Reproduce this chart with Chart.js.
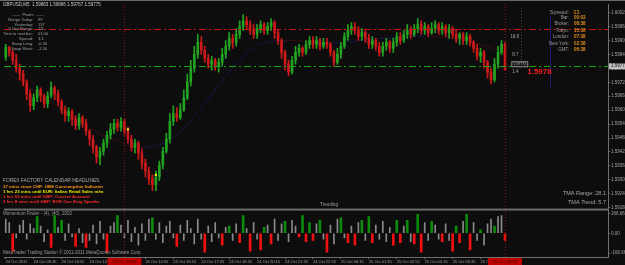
<!DOCTYPE html>
<html>
<head>
<meta charset="utf-8">
<script src="https://cdn.jsdelivr.net/npm/chart.js@4.4.0/dist/chart.umd.min.js"></script>
<style>
  html, body { margin: 0; padding: 0; background: #0d0d0d; overflow: hidden; }
  canvas { display: block; }
</style>
</head>
<body>
<canvas id="mt" width="625" height="265"></canvas>
<script>
// GBPUSD M5 candles (open = previous close)
const firstOpen = 1.59828;
const closes = [
  1.59870,1.59849,1.59815,1.59781,1.59755,1.59721,1.59670,1.59619,1.59653,1.59687,
  1.59662,1.59628,1.59662,1.59696,1.59670,1.59636,1.59602,1.59577,1.59594,1.59560,
  1.59534,1.59568,1.59543,1.59509,1.59475,1.59440,1.59398,1.59423,1.59458,1.59492,
  1.59517,1.59543,1.59526,1.59551,1.59509,1.59475,1.59440,1.59458,1.59415,1.59372,
  1.59338,1.59304,1.59279,1.59313,1.59364,1.59423,1.59475,1.59551,1.59585,1.59568,
  1.59602,1.59653,1.59721,1.59781,1.59840,1.59892,1.59858,1.59823,1.59798,1.59815,
  1.59789,1.59806,1.59840,1.59875,1.59909,1.59892,1.59926,1.59960,1.59985,1.59968,
  1.59943,1.59926,1.59951,1.59968,1.59943,1.59960,1.59977,1.59934,1.59900,1.59849,
  1.59798,1.59764,1.59815,1.59849,1.59866,1.59849,1.59883,1.59900,1.59883,1.59900,
  1.59875,1.59892,1.59883,1.59849,1.59806,1.59840,1.59875,1.59917,1.59943,1.59960,
  1.59943,1.59917,1.59934,1.59909,1.59883,1.59900,1.59875,1.59849,1.59875,1.59892,
  1.59866,1.59892,1.59917,1.59900,1.59926,1.59943,1.59926,1.59951,1.59968,1.59943,
  1.59960,1.59934,1.59951,1.59968,1.59943,1.59960,1.59934,1.59951,1.59926,1.59909,
  1.59926,1.59900,1.59917,1.59892,1.59866,1.59832,1.59849,1.59806,1.59764,1.59730,
  1.59798,1.59849,1.59883,1.59775
];
const highs = [
  1.59883,1.59875,1.59858,1.59840,1.59798,1.59772,1.59730,1.59687,1.59670,1.59704,
  1.59696,1.59670,1.59679,1.59721,1.59704,1.59687,1.59645,1.59619,1.59611,1.59602,
  1.59577,1.59585,1.59577,1.59560,1.59517,1.59492,1.59449,1.59440,1.59475,1.59509,
  1.59543,1.59560,1.59560,1.59568,1.59560,1.59526,1.59492,1.59475,1.59466,1.59432,
  1.59389,1.59355,1.59321,1.59338,1.59381,1.59440,1.59500,1.59585,1.59619,1.59611,
  1.59628,1.59687,1.59755,1.59815,1.59875,1.59926,1.59917,1.59875,1.59840,1.59832,
  1.59823,1.59823,1.59866,1.59900,1.59934,1.59926,1.59951,1.59985,1.60011,1.60002,
  1.59985,1.59968,1.59968,1.59985,1.59977,1.59977,1.59994,1.59985,1.59943,1.59909,
  1.59858,1.59815,1.59832,1.59875,1.59883,1.59875,1.59900,1.59917,1.59917,1.59917,
  1.59909,1.59909,1.59909,1.59892,1.59858,1.59866,1.59892,1.59934,1.59968,1.59977,
  1.59977,1.59960,1.59951,1.59943,1.59926,1.59917,1.59909,1.59892,1.59892,1.59909,
  1.59900,1.59909,1.59934,1.59934,1.59943,1.59968,1.59960,1.59968,1.59994,1.59985,
  1.59977,1.59968,1.59977,1.59985,1.59977,1.59977,1.59968,1.59968,1.59960,1.59943,
  1.59934,1.59934,1.59934,1.59926,1.59900,1.59883,1.59866,1.59858,1.59815,1.59781,
  1.59823,1.59875,1.59900,1.59892
];
const lows = [
  1.59815,1.59832,1.59798,1.59764,1.59730,1.59704,1.59645,1.59594,1.59602,1.59636,
  1.59636,1.59611,1.59611,1.59653,1.59645,1.59619,1.59585,1.59551,1.59551,1.59534,
  1.59517,1.59517,1.59526,1.59492,1.59449,1.59415,1.59372,1.59364,1.59406,1.59440,
  1.59475,1.59500,1.59509,1.59509,1.59492,1.59458,1.59423,1.59415,1.59389,1.59347,
  1.59313,1.59279,1.59253,1.59253,1.59296,1.59347,1.59415,1.59458,1.59534,1.59551,
  1.59560,1.59594,1.59645,1.59704,1.59764,1.59823,1.59840,1.59806,1.59781,1.59772,
  1.59772,1.59764,1.59789,1.59823,1.59858,1.59866,1.59875,1.59909,1.59943,1.59951,
  1.59926,1.59909,1.59909,1.59934,1.59926,1.59926,1.59943,1.59909,1.59883,1.59823,
  1.59772,1.59747,1.59755,1.59798,1.59832,1.59832,1.59840,1.59866,1.59866,1.59866,
  1.59858,1.59866,1.59866,1.59832,1.59789,1.59798,1.59823,1.59866,1.59900,1.59926,
  1.59926,1.59900,1.59900,1.59892,1.59866,1.59866,1.59858,1.59832,1.59832,1.59858,
  1.59849,1.59849,1.59875,1.59883,1.59892,1.59909,1.59909,1.59917,1.59934,1.59926,
  1.59926,1.59917,1.59926,1.59934,1.59926,1.59926,1.59917,1.59909,1.59909,1.59892,
  1.59883,1.59883,1.59883,1.59875,1.59849,1.59815,1.59806,1.59781,1.59738,1.59713,
  1.59721,1.59781,1.59840,1.59772
];
const priceTicks = [1.6002,1.5996,1.5990,1.5984,1.5978,1.5972,1.5966,1.5960,1.5954,1.5948,1.5942,1.5936,1.5930,1.5924,1.5918];

// sub window histogram; signal 1 = green buffer, -1 = red buffer, 0 = grey
const oscValues = [
  120,90,-150,-40,70,110,-50,80,40,140,
  60,-70,30,-120,150,50,110,-60,80,-30,
  -110,40,-80,-120,-60,70,-90,100,-50,-160,
  60,90,150,70,-40,110,-70,50,-100,80,
  -60,120,130,-50,90,-80,60,100,-40,-110,
  70,-60,110,40,-90,120,-50,-160,60,-70,
  90,-40,-100,50,60,-60,80,-80,150,40,
  -150,90,-50,-140,50,70,-90,120,-60,80,
  100,-70,110,60,-30,150,-70,90,-60,80,
  110,-50,-160,70,-90,120,130,-40,-80,60,
  -100,90,110,-60,140,-80,70,-50,100,-70,
  50,-100,110,-80,60,110,-70,-90,160,-160,
  90,-60,100,70,-50,-70,80,-60,-150,60,
  -80,100,160,-140,90,-60,30,-100,80,120,
  60,140,150,-60
];
const oscSignal = [
  0,0,-1,0,0,0,0,0,0,1,
  0,0,0,-1,1,0,1,0,0,0,
  -1,0,0,-1,0,0,0,0,0,-1,
  0,0,1,0,0,0,0,0,0,0,
  0,0,1,0,0,0,0,0,0,-1,
  0,0,0,0,0,0,0,-1,0,0,
  0,0,-1,0,1,0,0,-1,1,0,
  -1,0,0,-1,1,0,-1,0,0,0,
  1,0,0,0,-1,1,-1,1,-1,0,
  1,0,-1,0,0,0,1,0,-1,0,
  -1,0,1,0,1,-1,0,0,0,0,
  0,-1,1,-1,0,1,0,-1,1,-1,
  0,0,1,0,0,-1,0,0,-1,1,
  -1,0,1,-1,0,0,1,0,0,0,
  1,0,0,-1
];
const oscTicks = [166.666, 0, -166.666];

// centred TMA, sampled every 8 bars
const tmaSlots = [0,8,16,24,32,40,48,56,64,72,80,88,96,104,112,120,128,136,143];
const tmaMid = [1.59764,1.59687,1.59602,1.59526,1.59466,1.59440,1.59483,1.59611,1.59764,1.59875,
                1.59900,1.59892,1.59892,1.59904,1.59913,1.59917,1.59909,1.59883,1.59849];

const arrowSlots = [35, 43];
const arrowPrices = [1.59517, 1.59321];
const levelPrices = [1.59951, 1.59789];
const markSlots = [34, 143];
const markTimes = ['24 Oct 13:05', '25 Oct 08:35'];
const bidPrice = 1.59775;
const distLabels = ['18.8', '8.7', '1.4'];
const distPrices = [1.59917, 1.59840, 1.59764];

const timeTicks = ['24 Oct 2011','24 Oct 09:35','24 Oct 10:55','24 Oct 12:15','24 Oct 13:35','24 Oct 14:55',
  '24 Oct 16:15','24 Oct 17:35','24 Oct 18:55','24 Oct 20:15','24 Oct 21:35','24 Oct 22:55','25 Oct 00:15',
  '25 Oct 01:35','25 Oct 02:55','25 Oct 04:15','25 Oct 05:35','25 Oct 06:55'];
const ticksEvery = 8;
const slotCount = 173;   // bars plus the empty shift area on the right

const pivotRows = [['Range Today:', '99'], ['Yesterday:', '137'], ['5 Day Range:', '111'], ['Time to next bar:', '01:00'],
                   ['Spread:', '3.3'], ['Swap Long:', '-0.30'], ['Swap Short:', '-1.50']];
const clockRows = [['Bar:', '00:03'], ['Broker:', '08:38'], ['Tokyo:', '15:38'], ['London:', '07:38'], ['New York:', '02:38'], ['GMT:', '06:38']];
const headlines = [
  ['FOREX FACTORY CALENDAR HEADLINES:', '#a8a8a8'],
  ['37 mins since CHF: UBS Consumption Indicator', '#ff9a1a'],
  ['1 hrs 23 mins until EUR: Italian Retail Sales m/m', '#e8e800'],
  ['1 hrs 53 mins until GBP: Current Account', '#ff2a2a'],
  ['2 hrs 8 mins until GBP: BOE Gov King Speaks', '#ff2a2a']
];

const bull = '#22a322', bear = '#cc1a1a';
const opens = closes.map((c, i) => i ? closes[i - 1] : firstOpen);
const candleColors = closes.map((c, i) => c >= opens[i] ? bull : bear);
const FONT = '"Liberation Sans", Arial, sans-serif';

function text(ctx, s, x, y, size, color, align, bold) {
  ctx.font = (bold ? 'bold ' : '') + size + 'px ' + FONT;
  ctx.fillStyle = color;
  ctx.textAlign = align || 'left';
  ctx.textBaseline = 'middle';
  ctx.fillText(s, x, y);
}

const overlay = {
  id: 'overlay',
  beforeDraw(chart) {
    const ctx = chart.ctx;
    ctx.save();
    ctx.fillStyle = '#0d0d0d';
    ctx.fillRect(0, 0, chart.width, chart.height);
    ctx.restore();
  },
  afterDatasetsDraw(chart) {
    const ctx = chart.ctx, ca = chart.chartArea, xs = chart.scales.x, ys = chart.scales.y;
    ctx.save();
    ctx.lineWidth = 1;
    const levelColors = ['#c81414', '#16a616'];
    levelPrices.forEach((p, k) => {
      const y = Math.round(ys.getPixelForValue(p)) + 0.5;
      ctx.strokeStyle = levelColors[k];
      ctx.setLineDash([7, 3, 2, 3]);
      ctx.beginPath(); ctx.moveTo(ca.left, y); ctx.lineTo(ca.right, y); ctx.stroke();
    });
    ctx.setLineDash([1, 2]);
    ctx.strokeStyle = '#8c1010';
    markSlots.forEach(s => {
      const x = Math.round(xs.getPixelForValue(s)) + 0.5;
      ctx.beginPath(); ctx.moveTo(x, ca.top); ctx.lineTo(x, ca.bottom); ctx.stroke();
    });
    // object lines near the price
    const yb = ys.getPixelForValue(levelPrices[1]);
    let x = Math.round(xs.getPixelForValue(147.5)) + 0.5;
    ctx.strokeStyle = '#4a4a4a';
    ctx.beginPath(); ctx.moveTo(x, ca.top + 4); ctx.lineTo(x, yb); ctx.stroke();
    ctx.setLineDash([]);
    x = Math.round(xs.getPixelForValue(156)) + 0.5;
    ctx.strokeStyle = '#1c1c70';
    ctx.beginPath(); ctx.moveTo(x, ca.top + 12); ctx.lineTo(x, yb + 21); ctx.stroke();
    // panel separator
    ctx.fillStyle = '#6a6a6a';
    ctx.fillRect(ca.left, ys.bottom - 1, ca.right - ca.left, 2);
    ctx.fillRect(0, 0, chart.width, 1);
    ctx.restore();
  },
  afterDraw(chart) {
    const ctx = chart.ctx, ca = chart.chartArea, xs = chart.scales.x, ys = chart.scales.y;
    ctx.save();
    text(ctx, 'GBPUSD,M5  1.59863 1.59866 1.59767 1.59775', 3, 4.5, 4.5, '#c8c8c8');
    // pivot panel
    text(ctx, '——  Pivots  ——', 28, 15, 4, '#a0a0a0', 'center');
    pivotRows.forEach((r, k) => {
      const y = 19.5 + k * 4.9;
      text(ctx, r[0], 33, y, 4, '#a0a0a0', 'right');
      text(ctx, r[1], 38, y, 4, '#a0a0a0', 'left');
    });
    // clocks panel
    text(ctx, 'Spread:', 569, 12, 5.5, '#9a9a9a', 'right');
    text(ctx, '33', 573, 12, 6, '#e8901c', 'left');
    clockRows.forEach((r, k) => {
      const y = 17.5 + k * 6.5;
      text(ctx, r[0], 569, y, 4.5, '#9a9a9a', 'right');
      text(ctx, r[1], 574, y, 4.5, '#e8901c', 'left', true);
    });
    // level distance labels
    const lx = xs.getPixelForValue(144.5);
    distLabels.forEach((s, k) => text(ctx, s, lx + (k ? 2 : 0), ys.getPixelForValue(distPrices[k]), 4.5, '#a0a0a0'));
    const yb = ys.getPixelForValue(levelPrices[1]);
    ctx.fillStyle = '#161616'; ctx.strokeStyle = '#8a8a8a'; ctx.lineWidth = 1;
    ctx.fillRect(lx + 1, yb - 5, 16, 5); ctx.strokeRect(lx + 1.5, yb - 4.5, 16, 5);
    text(ctx, bidPrice.toFixed(5), lx + 9.5, yb - 2, 3.6, '#b0b0b0', 'center');
    text(ctx, bidPrice.toFixed(4), lx + 17, yb + 5.5, 8, '#ff1a1a', 'left', true);
    // bid box on the price axis
    ctx.fillStyle = '#bdbdbd';
    ctx.fillRect(ca.right + 1, yb - 3, 17, 6);
    text(ctx, bidPrice.toFixed(5), ca.right + 3, yb, 4.5, '#111');
    // headlines
    headlines.forEach((h, k) => text(ctx, h[0], 3, 181 + k * 5.3, k ? 4.4 : 4.8, h[1], 'left', k > 0));
    text(ctx, 'Trending', 329, 205, 4.6, '#a0a0a0', 'center');
    text(ctx, 'TMA Range: 28.1', 606, 193.5, 5.5, '#a8a8a8', 'right');
    text(ctx, 'TMA Trend: 5.7', 606, 202.5, 5.5, '#a8a8a8', 'right');
    text(ctx, 'Momentum Finder - (4), (40), 2002', 3, 214, 4.5, '#9a9a9a');
    text(ctx, 'MetaTrader Trading Station © 2001-2011 MetaQuotes Software Corp.', 3, 253, 4.5, '#9a9a9a');
    // time boxes of the vertical lines
    markSlots.forEach((s, k) => {
      const x = xs.getPixelForValue(s);
      ctx.fillStyle = '#c00000';
      ctx.fillRect(x - 17, ca.bottom + 1, 34, 7);
      text(ctx, markTimes[k], x, ca.bottom + 4.5, 4.2, '#300000', 'center');
    });
    ctx.restore();
  }
};

const axisCol = '#6e6e6e';
const tickCol = '#a4a4a4';

new Chart(document.getElementById('mt'), {
  type: 'bar',
  data: {
    datasets: [
      {
        label: 'wicks',
        data: closes.map((c, i) => ({ x: i, y: [Math.min(lows[i], opens[i], c), Math.max(highs[i], opens[i], c)] })),
        backgroundColor: candleColors,
        barThickness: 1,
        grouped: false,
        yAxisID: 'y',
        order: 3
      },
      {
        label: 'bodies',
        data: closes.map((c, i) => ({ x: i, y: [opens[i], c] })),
        backgroundColor: candleColors,
        barThickness: 2,
        minBarLength: 1,
        grouped: false,
        yAxisID: 'y',
        order: 2
      },
      {
        type: 'line',
        label: 'TMA',
        data: tmaSlots.map((s, k) => ({ x: s, y: tmaMid[k] })),
        borderWidth: 1,
        borderDash: [1, 1.5],
        pointRadius: 0,
        tension: 0.4,
        segment: { borderColor: c => c.p1.parsed.y >= c.p0.parsed.y ? '#202090' : '#6e1212' },
        yAxisID: 'y',
        order: 4
      },
      {
        type: 'scatter',
        label: 'arrows',
        data: arrowSlots.map((s, k) => ({ x: s, y: arrowPrices[k] })),
        pointStyle: 'rect',
        pointRadius: 1.6,
        backgroundColor: '#f0e020',
        borderWidth: 0,
        yAxisID: 'y',
        order: 1
      },
      {
        label: 'osc',
        data: oscValues.map((v, i) => ({ x: i, y: v })).filter((p, i) => oscSignal[i] === 0),
        backgroundColor: '#8a8a8a',
        barThickness: 1,
        grouped: false,
        yAxisID: 'y2'
      },
      {
        label: 'osc signal',
        data: oscValues.map((v, i) => ({ x: i, y: v })).filter((p, i) => oscSignal[i] !== 0),
        backgroundColor: oscValues.filter((v, i) => oscSignal[i] !== 0).map(v => v > 0 ? '#0c8a0c' : '#f01010'),
        barThickness: 2,
        grouped: false,
        yAxisID: 'y2'
      }
    ]
  },
  options: {
    responsive: false,
    animation: false,
    events: [],
    layout: { padding: { left: 2, top: 1, right: 0, bottom: 0 } },
    plugins: { legend: { display: false }, tooltip: { enabled: false } },
    scales: {
      x: {
        type: 'linear',
        offset: false,
        min: -0.5,
        max: slotCount - 0.5,
        position: 'bottom',
        border: { color: axisCol },
        grid: { drawOnChartArea: false, offset: false, tickLength: 2, color: axisCol },
        afterBuildTicks: s => { s.ticks = timeTicks.map((t, k) => ({ value: k * ticksEvery })); },
        afterFit: s => { s.height = 8; s.paddingLeft = 0; s.paddingRight = 0; },
        ticks: {
          autoSkip: false, maxRotation: 0, align: 'start', padding: 0,
          color: tickCol, font: { size: 4, family: FONT },
          callback: v => timeTicks[Math.round(v / ticksEvery)]
        }
      },
      y: {
        type: 'linear',
        position: 'right',
        stack: 'mt',
        stackWeight: 208,
        min: 1.59172,
        max: 1.60057,
        border: { color: axisCol },
        grid: { drawOnChartArea: false, tickLength: 2, color: axisCol },
        afterBuildTicks: s => { s.ticks = priceTicks.map(v => ({ value: v })); },
        afterFit: s => { s.width = 17; },
        ticks: { autoSkip: false, padding: 1, color: tickCol, font: { size: 4.5, family: FONT }, callback: v => v.toFixed(5) }
      },
      y2: {
        type: 'linear',
        position: 'right',
        stack: 'mt',
        stackWeight: 48,
        min: -200,
        max: 200,
        border: { color: axisCol },
        grid: { drawOnChartArea: false, tickLength: 2, color: axisCol },
        afterBuildTicks: s => { s.ticks = oscTicks.map(v => ({ value: v })); },
        afterFit: s => { s.width = 17; },
        ticks: { autoSkip: false, padding: 1, color: tickCol, font: { size: 4.5, family: FONT }, callback: v => v === 0 ? '0.00' : v.toFixed(3) }
      }
    }
  },
  plugins: [overlay]
});
</script>
</body>
</html>
